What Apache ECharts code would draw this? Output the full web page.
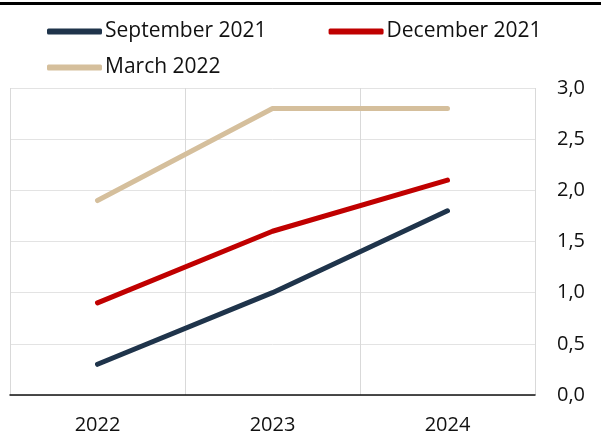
<!DOCTYPE html>
<html>
<head>
<meta charset="utf-8">
<script src="https://cdn.jsdelivr.net/npm/echarts@6/dist/echarts.min.js"></script>
<style>
html,body{margin:0;padding:0;background:#fff;}
#c{width:601px;height:439px;}
</style>
</head>
<body>
<div id="c"></div>
<script>
const categories = ['2022', '2023', '2024'];
const sep2021 = [0.3, 1.0, 1.8];
const dec2021 = [0.9, 1.6, 2.1];
const mar2022 = [1.9, 2.8, 2.8];
const yTicks = { min: 0, max: 3, interval: 0.5 };

const FONT = '"Open Sans", "Noto Sans", sans-serif';
const chart = echarts.init(document.getElementById('c'), null, { renderer: 'canvas' });
const mk = (name, data, color) => ({
  name, type: 'line', data, symbol: 'none',
  lineStyle: { width: 5, color, cap: 'round', join: 'round' },
  itemStyle: { color }
});
const legendText = { fontSize: 21, color: '#111', fontFamily: FONT, padding: [0,0,0,-2] };
chart.setOption({
  animation: false,
  textStyle: { fontFamily: FONT },
  graphic: [{ type: 'rect', shape: { x: 0, y: 2, width: 601, height: 3 }, style: { fill: '#000' } }],
  legend: [
    { data: ['September 2021', 'December 2021'], left: 47, top: 21, padding: 0, itemWidth: 55, itemHeight: 6, itemGap: 62, icon: 'roundRect',
      textStyle: legendText },
    { data: ['March 2022'], left: 47, top: 57, padding: 0, itemWidth: 55, itemHeight: 6, icon: 'roundRect',
      textStyle: legendText }
  ],
  grid: { left: 10, right: 66, top: 88, bottom: 44, containLabel: false },
  xAxis: {
    type: 'category', data: categories, boundaryGap: true,
    axisLine: { lineStyle: { color: '#111', width: 1.5 } },
    axisTick: { show: false },
    axisLabel: { fontSize: 20, color: '#111', margin: 20, fontFamily: FONT },
    splitLine: { show: true, lineStyle: { color: '#d9d9d9', width: 1 } }
  },
  yAxis: {
    type: 'value', position: 'right', min: yTicks.min, max: yTicks.max, interval: yTicks.interval,
    axisLine: { show: false }, axisTick: { show: false },
    axisLabel: { fontSize: 20, color: '#111', margin: 22, fontFamily: FONT,
      formatter: v => v.toFixed(1).replace('.', ',') },
    splitLine: { lineStyle: { color: '#e3e3e3', width: 1 } }
  },
  series: [
    mk('September 2021', sep2021, '#1f344b'),
    mk('December 2021', dec2021, '#c00000'),
    mk('March 2022', mar2022, '#d5bf9c')
  ]
});
</script>
</body>
</html>
